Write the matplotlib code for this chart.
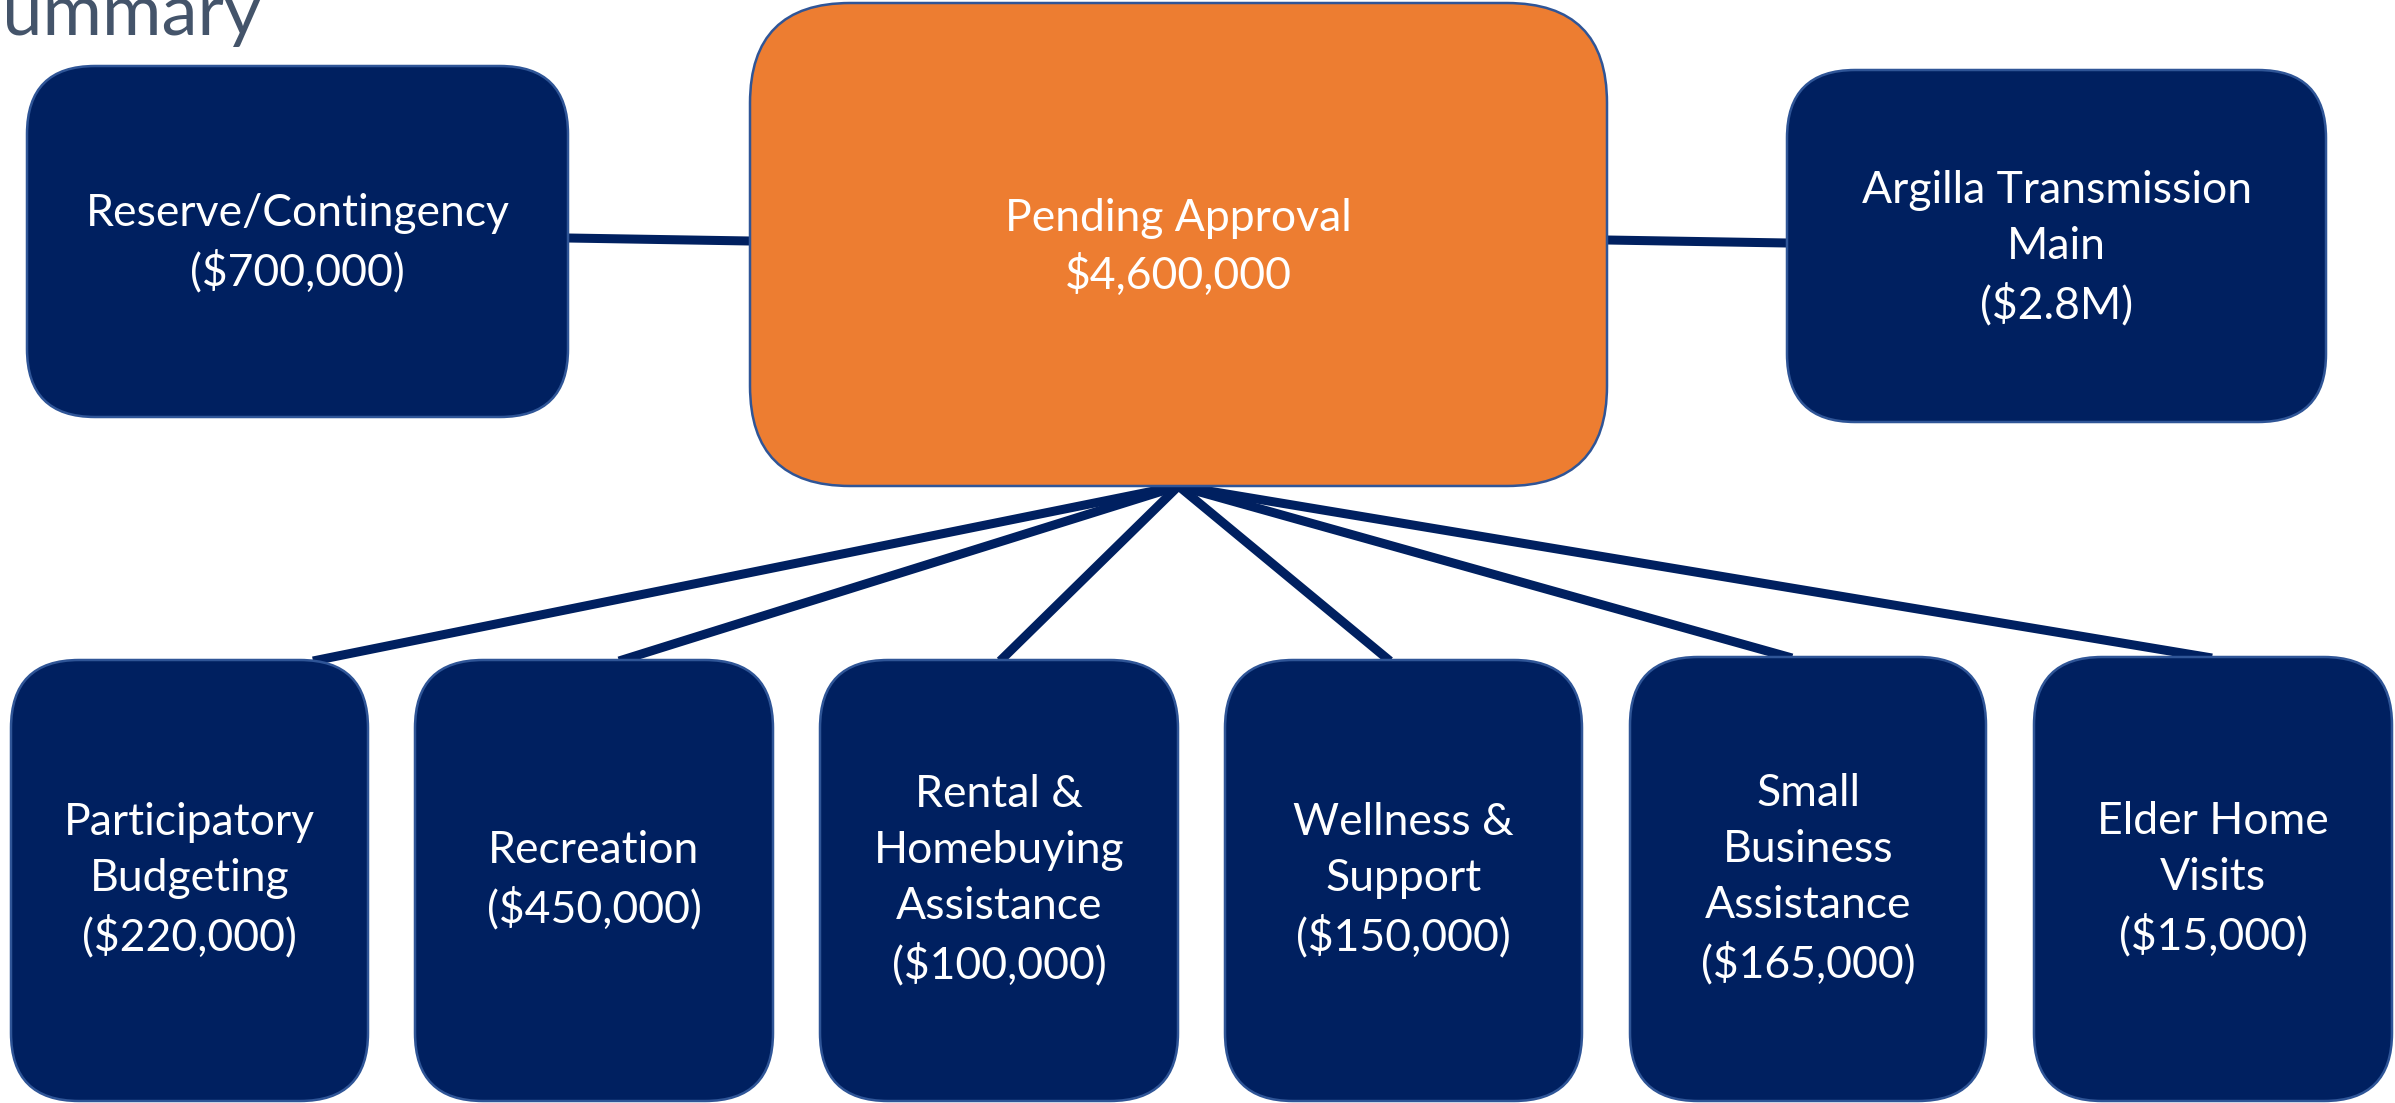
import matplotlib.pyplot as plt
from matplotlib.patches import FancyBboxPatch

# labels and amounts
center_label = ['Pending Approval', '$4,600,000']
side_labels = ['Reserve/Contingency\n($700,000)', 'Argilla Transmission\nMain\n($2.8M)']
bottom_labels = [
    'Participatory\nBudgeting\n($220,000)',
    'Recreation\n($450,000)',
    'Rental &\nHomebuying\nAssistance\n($100,000)',
    'Wellness &\nSupport\n($150,000)',
    'Small\nBusiness\nAssistance\n($165,000)',
    'Elder Home\nVisits\n($15,000)',
]

# layout in pixels (x0, y0, x1, y1), y downwards
center_box = (750, 3, 1607, 486)
side_boxes = [(27, 66, 568, 417), (1787, 70, 2326, 422)]
bottom_boxes = [
    (11, 660, 368, 1101),
    (415, 660, 773, 1101),
    (820, 660, 1178, 1101),
    (1225, 660, 1582, 1101),
    (1630, 657, 1986, 1101),
    (2034, 657, 2392, 1101),
]
bottom_anchor = [313, 619, 1000, 1390, 1792, 2212]

navy = '#002060'
edge = '#2F5597'
orange = '#ED7D31'
font = ['Lato', 'DejaVu Sans']

fig = plt.figure(figsize=(23.95, 11.03), dpi=100)
ax = fig.add_axes([0, 0, 1, 1])
ax.set_xlim(0, 2395)
ax.set_ylim(1103, 0)
ax.axis('off')


def box(b, color, r):
    x0, y0, x1, y1 = b
    p = FancyBboxPatch((x0, y0), x1 - x0, y1 - y0,
                       boxstyle=f'round,pad=0,rounding_size={r}',
                       fc=color, ec=edge, lw=1.8, zorder=3)
    ax.add_patch(p)
    return (x0 + x1) / 2, (y0 + y1) / 2


# connectors
lw = 6.5
ax.plot([568, 750], [238, 241], color=navy, lw=lw, solid_capstyle='butt', zorder=1)
ax.plot([1607, 1787], [240, 243], color=navy, lw=lw, solid_capstyle='butt', zorder=1)
cx = (center_box[0] + center_box[2]) / 2
for bx, b in zip(bottom_anchor, bottom_boxes):
    ax.plot([cx, bx], [center_box[3], b[1] + 1], color=navy, lw=lw,
            solid_capstyle='butt', zorder=1)

fs = 32
ls = 1.45

# boxes
mx, my = box(center_box, orange, 100)
ax.text(mx, my + 3, '\n'.join(center_label), color='white', ha='center', va='center',
        fontsize=fs, family=font, linespacing=ls, zorder=4)

for lab, b in zip(side_labels, side_boxes):
    x, y = box(b, navy, 68)
    ax.text(x, y + 2, lab, color='white', ha='center', va='center',
            fontsize=fs, family=font, linespacing=ls, zorder=4)

for lab, b in zip(bottom_labels, bottom_boxes):
    x, y = box(b, navy, 68)
    ax.text(x, y, lab, color='white', ha='center', va='center',
            fontsize=fs, family=font, linespacing=ls, zorder=4)

# clipped slide title
ax.text(262, 35, 'Summary', color='#44546A', ha='right', va='baseline',
        fontsize=52, family=font, zorder=4)

fig.savefig('out.png', dpi=100)
